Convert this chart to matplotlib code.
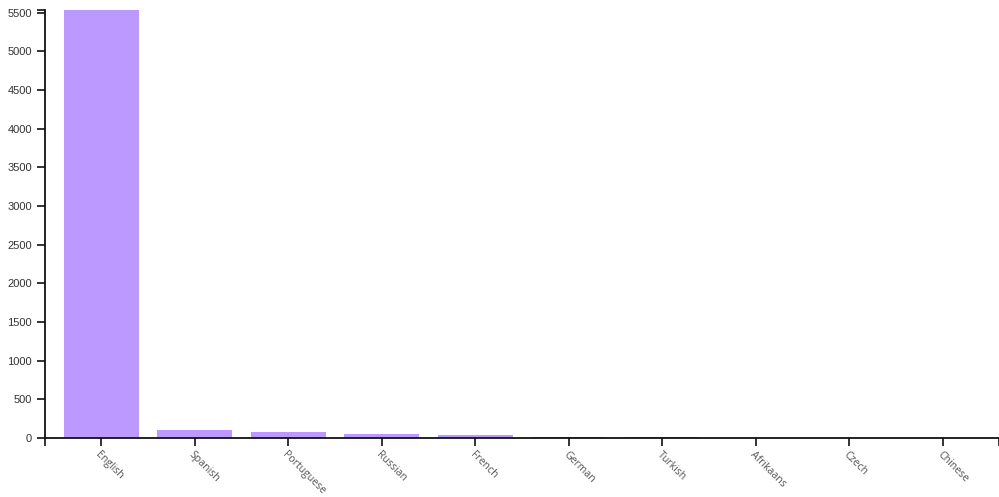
import matplotlib
matplotlib.use("Agg")
from matplotlib import pyplot as plt
import numpy as np

languages = ["English", "Spanish", "Portuguese", "Russian", "French",
             "German", "Turkish", "Afrikaans", "Czech", "Chinese"]
counts = [5535, 108, 72, 52, 45, 12, 10, 6, 4, 2]
y_ticks = [0, 500, 1000, 1500, 2000, 2500, 3000, 3500, 4000, 4500, 5000, 5500]

fig = plt.figure(figsize=(9.99, 4.97), dpi=100)
ax = fig.add_axes([45/999, (497-438)/497, (999-45)/999, 428/497])

x = np.arange(len(languages))
ax.bar(x, counts, width=0.8, color="#bb99ff")

ax.set_xlim(-0.6, len(languages) - 0.4)
ax.set_ylim(0, max(counts))

for s in ["top", "right"]:
    ax.spines[s].set_visible(False)
for s in ["left", "bottom"]:
    ax.spines[s].set_linewidth(1.3)
    ax.spines[s].set_color("#111111")

ax.set_yticks(y_ticks)
ax.set_yticklabels([str(v) for v in y_ticks], fontsize=8, color="#333333",
                   family="Liberation Sans")
ax.set_xticks(x)
ax.set_xticklabels(languages, fontsize=7.6, color="#555555", family="Open Sans",
                   rotation=-45, ha="left", va="top", rotation_mode="anchor")

# d3-style outer ticks at the ends of the axes
ax.set_yticks([max(counts)], minor=True)
ax.set_xticks([-0.6, len(languages) - 0.4], minor=True)
ax.tick_params(axis="both", which="both", length=6, width=1.2, color="#111111")
ax.tick_params(axis="x", which="major", pad=2)

plt.savefig("out.png", dpi=100)
